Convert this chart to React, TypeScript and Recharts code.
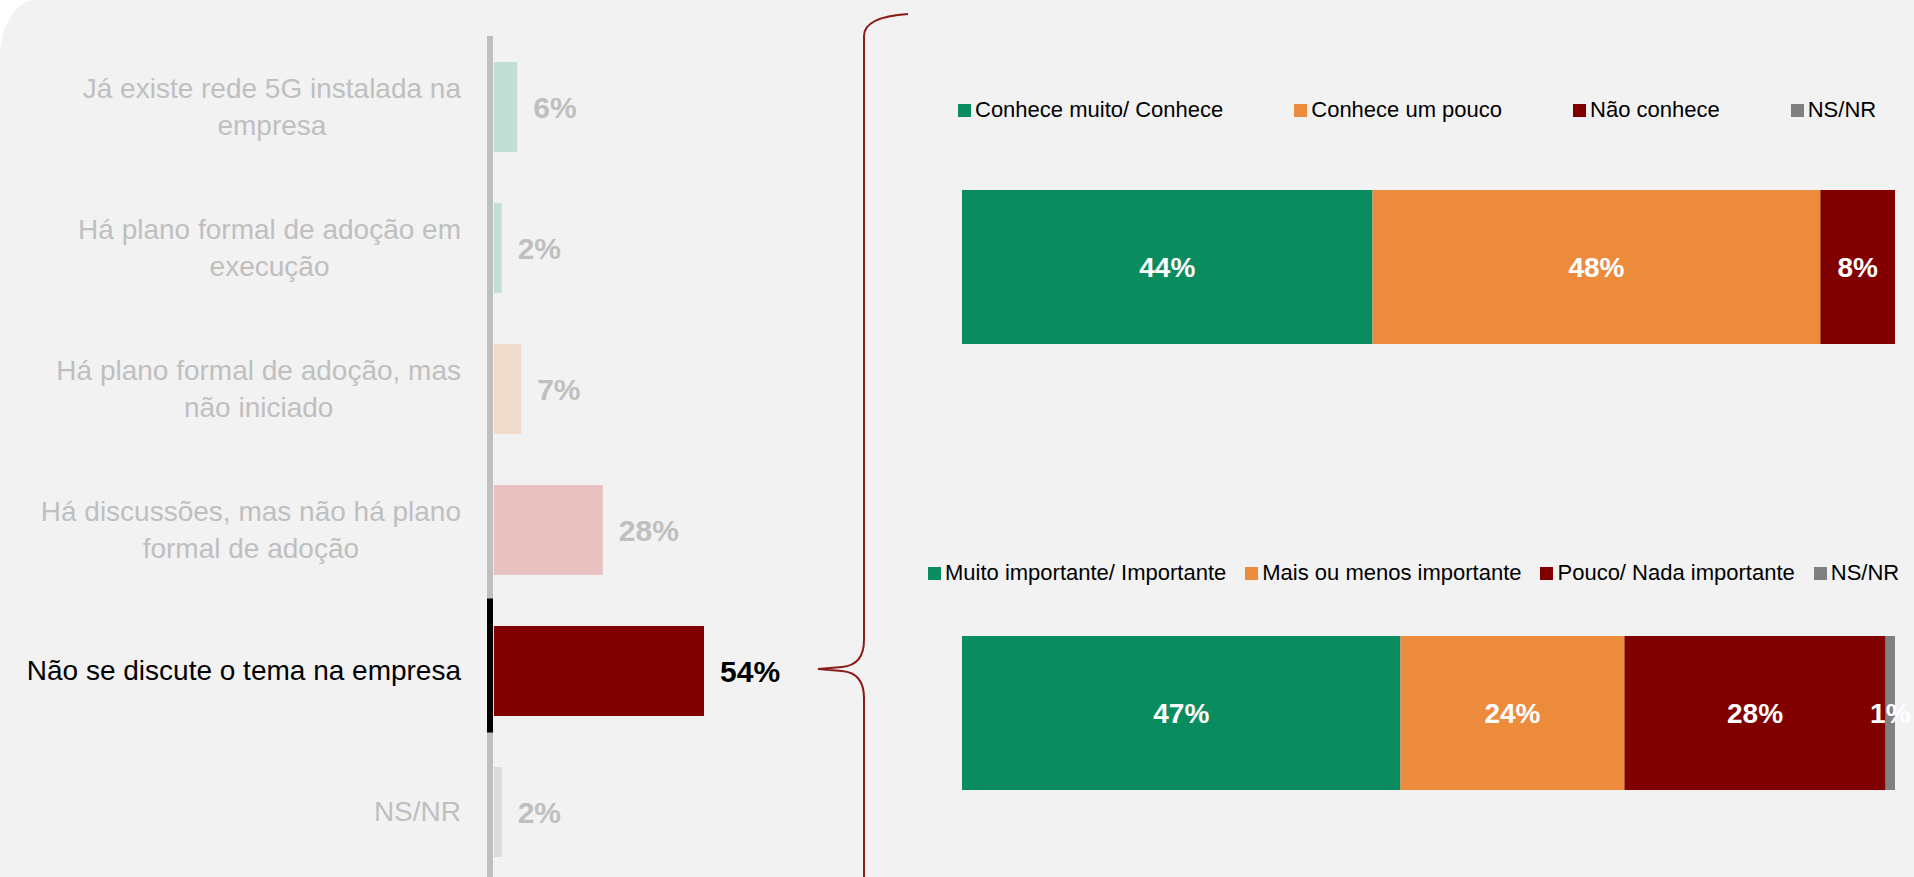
import React from 'react';
import { BarChart, Bar, XAxis, YAxis, Cell, LabelList, Legend } from 'recharts';

// situação da discussão sobre 5G na empresa
const situacoes = [
  'Já existe rede 5G instalada na\nempresa',
  'Há plano formal de adoção em\nexecução',
  'Há plano formal de adoção, mas\nnão iniciado',
  'Há discussões, mas não há plano\nformal de adoção',
  'Não se discute o tema na empresa',
  'NS/NR',
];
const situacaoValores = [6, 2, 7, 28, 54, 2];
const situacaoCores = ['#c3ded4', '#c3ded4', '#f0dccd', '#e8c1c1', '#800000', '#dcdcdc'];
const destaque = 'Não se discute o tema na empresa';

// conhecimento e importância (entre quem não discute o tema)
const conhecimentoSeries = ['Conhece muito/ Conhece', 'Conhece um pouco', 'Não conhece', 'NS/NR'];
const conhecimentoValores = [44, 48, 8, 0];
const importanciaSeries = ['Muito importante/ Importante', 'Mais ou menos importante', 'Pouco/ Nada importante', 'NS/NR'];
const importanciaValores = [47, 24, 28, 1];
const seriesCores = ['#088c60', '#ec8b3c', '#800000', '#808080'];

const FONTE = "'Liberation Sans', Arial, sans-serif";
const CINZA = '#bfbfbf';
const MARGEM_TICK = 29;

let ctx: CanvasRenderingContext2D | null = null;
const medir = (t: string, font: string) => {
  if (!ctx) ctx = document.createElement('canvas').getContext('2d');
  ctx!.font = font;
  return ctx!.measureText(t).width;
};

const TickSituacao = (props: any) => {
  const { x, y, payload } = props;
  const texto: string = payload.value;
  const linhas = texto.split('\n');
  const ativo = texto === destaque;
  const largura = Math.max(...linhas.map((l) => medir(l, `28px ${FONTE}`)));
  const cx = x - largura / 2;
  const topo = y - ((linhas.length - 1) * 37) / 2;
  return (
    <g>
      {/* trecho preto do eixo na categoria em destaque */}
      {ativo && <rect x={x + MARGEM_TICK - 3} y={y - 72} width={6} height={134} fill="#000" />}
      <text textAnchor="middle" fill={ativo ? '#000' : CINZA} fontSize={28} fontFamily={FONTE}>
        {linhas.map((l, i) => (
          <tspan key={i} x={cx} y={topo + i * 37} dy="0.35em">
            {l}
          </tspan>
        ))}
      </text>
    </g>
  );
};

const RotuloSituacao = (props: any) => {
  const { x, y, width, height, value, index } = props;
  const ativo = situacoes[index] === destaque;
  return (
    <text
      x={x + width + 16}
      y={y + height / 2}
      dy="0.35em"
      fontSize={30}
      fontWeight="bold"
      fontFamily={FONTE}
      fill={ativo ? '#000' : CINZA}
    >
      {value}%
    </text>
  );
};

const RotuloSegmento = (props: any) => {
  const { x, y, width, height, value } = props;
  if (!value) return null;
  return (
    <text
      x={x + width / 2}
      y={y + height / 2}
      dy="0.35em"
      textAnchor="middle"
      fontSize={28}
      fontWeight="bold"
      fontFamily={FONTE}
      fill="#fff"
    >
      {value}%
    </text>
  );
};

type LegendaProps = { series: string[]; gap: number };
const Legenda = ({ series, gap }: LegendaProps) => (
  <div style={{ display: 'flex', gap, fontFamily: FONTE, fontSize: 22, color: '#000', whiteSpace: 'nowrap' }}>
    {series.map((s, i) => (
      <div key={s} style={{ display: 'flex', alignItems: 'center', gap: 4 }}>
        <span style={{ width: 13, height: 13, background: seriesCores[i], display: 'inline-block' }} />
        <span>{s}</span>
      </div>
    ))}
  </div>
);

type EmpilhadaProps = {
  series: string[];
  valores: number[];
  top: number;
  barTop: number;
  legendaTop: number;
  legendaLeft: number;
  gap: number;
};
const ALTURA = 440;
const BARRA = 154;
const FAIXA = 200; // altura da área de plotagem, maior que a barra
const BarraEmpilhada = ({ series, valores, top, barTop, legendaTop, legendaLeft, gap }: EmpilhadaProps) => {
  const dados = [{ g: 'total', ...Object.fromEntries(valores.map((v, i) => [`v${i}`, v])) }];
  const mTop = barTop - top - (FAIXA - BARRA) / 2;
  return (
    <div style={{ position: 'absolute', left: 900, top }}>
      <BarChart
        width={1014}
        height={ALTURA}
        data={dados}
        layout="vertical"
        barCategoryGap="0%"
        margin={{ top: mTop, right: 19, bottom: ALTURA - mTop - FAIXA, left: 62 }}
      >
        <XAxis type="number" domain={[0, 100]} hide />
        <YAxis type="category" dataKey="g" hide />
        <Legend
          layout="horizontal"
          verticalAlign="middle"
          align="center"
          wrapperStyle={{ top: legendaTop, left: legendaLeft, width: 'auto', height: 'auto' }}
          content={() => <Legenda series={series} gap={gap} />}
        />
        {series.map((s, i) => (
          <Bar key={s} dataKey={`v${i}`} name={s} stackId="a" fill={seriesCores[i]} barSize={BARRA} isAnimationActive={false}>
            <LabelList dataKey={`v${i}`} content={<RotuloSegmento />} />
          </Bar>
        ))}
      </BarChart>
    </div>
  );
};

export default function App() {
  const dados = situacoes.map((nome, i) => ({ nome, valor: situacaoValores[i] }));
  return (
    <div style={{ position: 'absolute', left: 0, top: 0, width: 1914, height: 877, background: '#fff', overflow: 'hidden' }}>
      <div style={{ position: 'absolute', inset: 0, background: '#f2f2f2', borderTopLeftRadius: '36px 56px' }} />
      <div style={{ position: 'absolute', left: 0, top: 0 }}>
        <BarChart width={900} height={882} data={dados} layout="vertical" margin={{ top: 36, right: 17, bottom: 0, left: 0 }}>
          <XAxis type="number" domain={[-1, 100]} hide />
          <YAxis
            type="category"
            dataKey="nome"
            width={490}
            interval={0}
            axisLine={{ stroke: CINZA, strokeWidth: 6 }}
            tickLine={false}
            tickSize={0}
            tickMargin={MARGEM_TICK}
            tick={<TickSituacao />}
          />
          <Bar dataKey="valor" barSize={90} isAnimationActive={false}>
            {dados.map((d, i) => (
              <Cell key={d.nome} fill={situacaoCores[i]} />
            ))}
            <LabelList dataKey="valor" content={<RotuloSituacao />} />
          </Bar>
        </BarChart>
      </div>
      <BarraEmpilhada series={conhecimentoSeries} valores={conhecimentoValores} top={0} barTop={190} legendaTop={97} legendaLeft={58} gap={71} />
      <BarraEmpilhada series={importanciaSeries} valores={importanciaValores} top={430} barTop={636} legendaTop={130} legendaLeft={28} gap={19} />
      <svg width={1914} height={877} style={{ position: 'absolute', left: 0, top: 0, pointerEvents: 'none' }}>
        <path
          d="M 864 877 L 864 698 Q 864 673 842 671 L 818 669 L 842 667 Q 864 665 864 640 L 864 36 Q 864 17 908 14"
          fill="none"
          stroke="#8b1a1a"
          strokeWidth={2}
        />
      </svg>
    </div>
  );
}
